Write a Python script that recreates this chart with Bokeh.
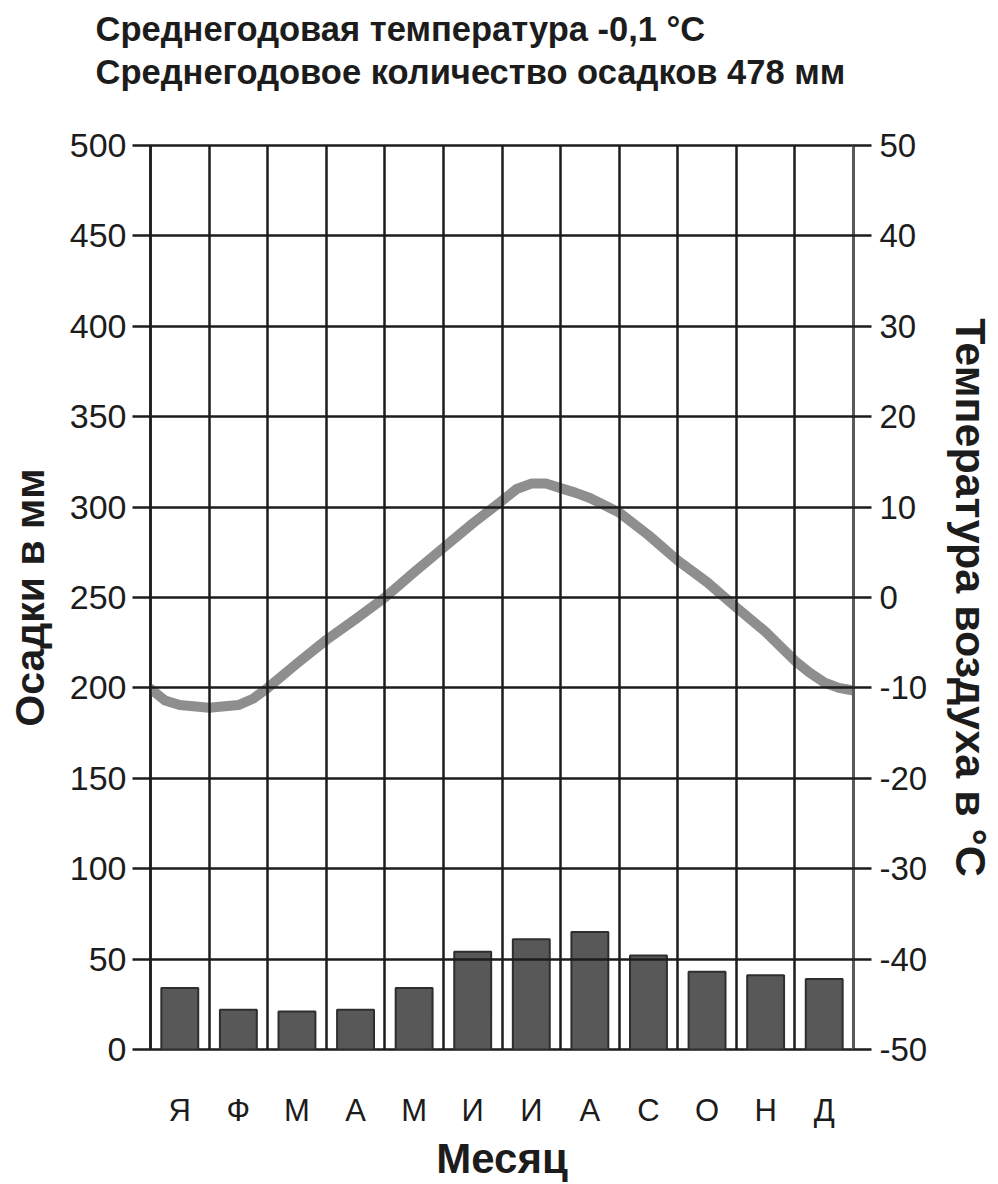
from bokeh.plotting import figure
from bokeh.models import Range1d, LinearAxis, FixedTicker, Title
from bokeh.embed import file_html
from bokeh.resources import INLINE

# ---- data ----
months = ["Я", "Ф", "М", "А", "М", "И", "И", "А", "С", "О", "Н", "Д"]
precip_mm = [34, 22, 21, 22, 34, 54, 61, 65, 52, 43, 41, 39]
# temperature curve (position in month units, °C)
temp_pos = [0, 0.25, 0.5, 1, 1.5, 1.75, 2, 2.5, 3, 3.5, 4, 4.5, 5, 5.5, 6,
            6.25, 6.5, 6.75, 7, 7.25, 7.5, 8, 8.5, 9, 9.5, 10, 10.5, 11,
            11.25, 11.5, 11.75, 12]
temp_c = [-10.1, -11.4, -11.9, -12.2, -11.9, -11.2, -10.0, -7.3, -4.7, -2.4,
          0.0, 2.8, 5.5, 8.2, 10.7, 12.0, 12.6, 12.6, 12.1, 11.6, 11.0, 9.4,
          6.9, 4.1, 1.7, -1.1, -3.8, -7.0, -8.3, -9.4, -10.0, -10.3]
precip_ticks = [0, 50, 100, 150, 200, 250, 300, 350, 400, 450, 500]
temp_ticks = [-50, -40, -30, -20, -10, 0, 10, 20, 30, 40, 50]
title_lines = ["Среднегодовая температура -0,1 °C",
               "Среднегодовое количество осадков 478 мм"]

FONT = "Liberation Sans"
INK = "#1c1c1c"

month_centers = [i + 0.5 for i in range(len(months))]

p = figure(width=998, height=1184, output_backend="svg", toolbar_location=None,
           x_range=Range1d(0, 12), y_range=Range1d(0, 500),
           min_border_left=150, min_border_right=143,
           min_border_top=145, min_border_bottom=134,
           background_fill_color="white", border_fill_color="white")
p.extra_y_ranges = {"temp": Range1d(-50, 50)}

# frame outline
p.outline_line_color = INK
p.outline_line_width = 2.5

# grids
p.xgrid.ticker = FixedTicker(ticks=list(range(13)))
p.xgrid.grid_line_color = INK
p.xgrid.grid_line_width = 2.5
p.ygrid.ticker = FixedTicker(ticks=precip_ticks)
p.ygrid.grid_line_color = INK
p.ygrid.grid_line_width = 2.5
p.xgrid.level = "overlay"
p.ygrid.level = "overlay"

# bars
p.vbar(x=month_centers, top=precip_mm, width=0.63, bottom=0,
       fill_color="#585858", line_color="#2e2e2e", line_width=2)

# temperature line
p.line(temp_pos, temp_c, y_range_name="temp", line_color="#8e8e8e",
       line_width=10, line_join="round", line_cap="round")

# left axis
ya = p.yaxis[0]
ya.ticker = FixedTicker(ticks=precip_ticks)
ya.axis_label = "Осадки в мм"
ya.axis_label_text_font = FONT
ya.axis_label_text_font_style = "bold"
ya.axis_label_text_font_size = "41px"
ya.axis_label_text_color = INK
ya.axis_label_standoff = 14
ya.major_label_text_font = FONT
ya.major_label_text_font_size = "34px"
ya.major_label_text_color = INK
ya.major_label_standoff = 6
ya.major_tick_out = 18
ya.major_tick_in = 0
ya.major_tick_line_width = 2.5
ya.major_tick_line_color = INK
ya.minor_tick_line_color = None
ya.axis_line_color = INK
ya.axis_line_width = 2.5

# right axis
ra = LinearAxis(y_range_name="temp", ticker=FixedTicker(ticks=temp_ticks))
ra.major_label_overrides = {t: str(t) for t in temp_ticks}
ra.axis_label = "Температура воздуха в °C"
ra.axis_label_text_font = FONT
ra.axis_label_text_font_style = "bold"
ra.axis_label_text_font_size = "43px"
ra.axis_label_text_color = INK
ra.axis_label_standoff = 17
ra.major_label_text_font = FONT
ra.major_label_text_font_size = "33px"
ra.major_label_text_color = INK
ra.major_label_standoff = 8
ra.major_tick_out = 18
ra.major_tick_in = 0
ra.major_tick_line_width = 2.5
ra.major_tick_line_color = INK
ra.minor_tick_line_color = None
ra.axis_line_color = "#5a5a5a"
ra.axis_line_width = 3
p.add_layout(ra, "right")

# bottom axis
xa = p.xaxis[0]
xa.ticker = FixedTicker(ticks=month_centers)
xa.major_label_overrides = {c: m for c, m in zip(month_centers, months)}
xa.axis_label = "Месяц"
xa.axis_label_text_font = FONT
xa.axis_label_text_font_style = "bold"
xa.axis_label_text_font_size = "42px"
xa.axis_label_text_color = INK
xa.axis_label_standoff = 4
xa.major_label_text_font = FONT
xa.major_label_text_font_size = "31px"
xa.major_label_text_color = INK
xa.major_label_standoff = 37
xa.major_tick_line_color = None
xa.minor_tick_line_color = None
xa.axis_line_color = None

# spacer between frame and the title lines, then the two title lines
p.add_layout(Title(text=" ", standoff=40, text_font_size="10px"), "above")
p.add_layout(Title(text=title_lines[1], align="left", offset=-55, standoff=3,
                   text_font=FONT, text_font_style="bold",
                   text_font_size="34.5px", text_color=INK), "above")
p.add_layout(Title(text=title_lines[0], align="left", offset=-55, standoff=3,
                   text_font=FONT, text_font_style="bold",
                   text_font_size="34.5px", text_color=INK), "above")

open("out.html", "w").write(file_html(p, INLINE))
